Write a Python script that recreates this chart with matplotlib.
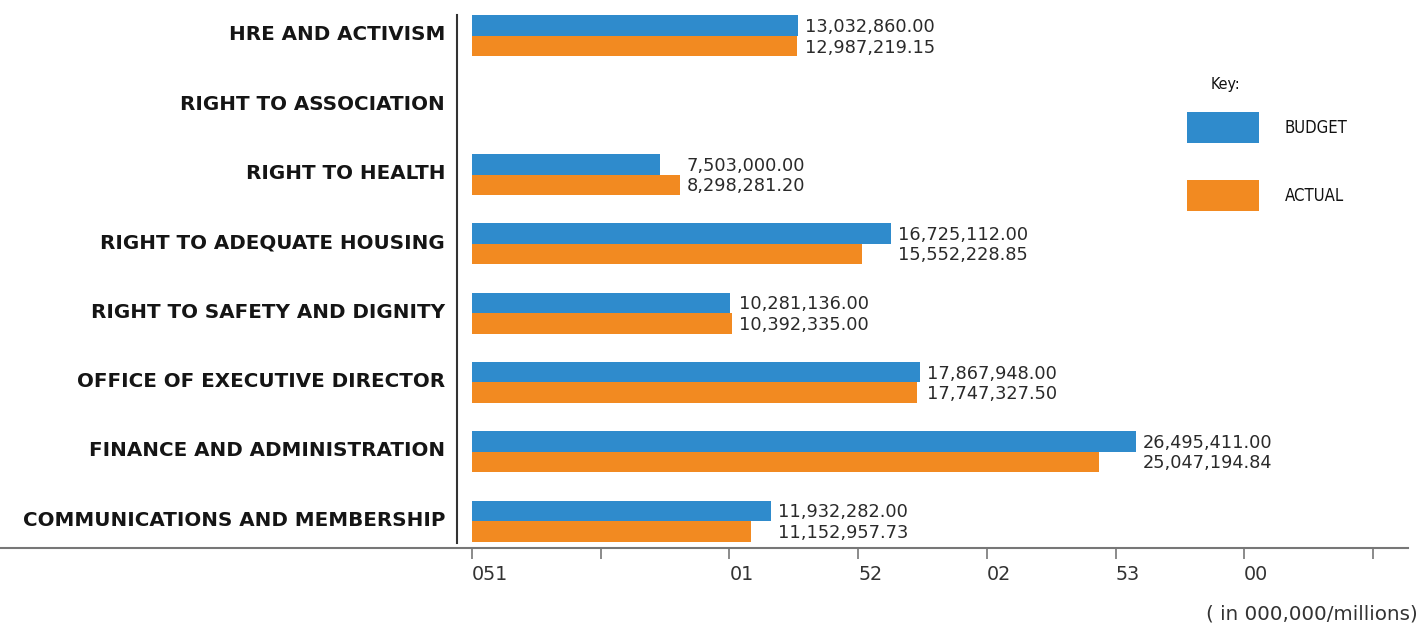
import numpy as np
import matplotlib
matplotlib.use("Agg")
import matplotlib.pyplot as plt
from matplotlib import font_manager
from matplotlib.font_manager import FontProperties
from matplotlib.lines import Line2D
from matplotlib.patches import Rectangle
from matplotlib.transforms import ScaledTranslation

# ---------------- data ----------------
categories = [
    "HRE AND ACTIVISM",
    "RIGHT TO ASSOCIATION",
    "RIGHT TO HEALTH",
    "RIGHT TO ADEQUATE HOUSING",
    "RIGHT TO SAFETY AND DIGNITY",
    "OFFICE OF EXECUTIVE DIRECTOR",
    "FINANCE AND ADMINISTRATION",
    "COMMUNICATIONS AND MEMBERSHIP",
]
budget = [13032860.00, np.nan, 7503000.00, 16725112.00, 10281136.00,
          17867948.00, 26495411.00, 11932282.00]
actual = [12987219.15, np.nan, 8298281.20, 15552228.85, 10392335.00,
          17747327.50, 25047194.84, 11152957.73]
series_names = ["BUDGET", "ACTUAL"]
tick_labels = ["051", "", "01", "52", "02", "53", "00", ""]
unit_label = "( in 000,000/millions)"
key_title = "Key:"

# ---------------- style ----------------
BLUE = "#2F8BCC"
ORANGE = "#F28A21"
W, H, DPI = 1420, 624, 100

# look for a condensed / narrow face for the key
narrow_file = None
for f in font_manager.fontManager.ttflist:
    nm = f.name
    cond = ("Narrow" in nm or "Condensed" in nm or
            str(f.stretch) in ("condensed", "semi-condensed"))
    if cond and str(f.weight) in ("400", "normal", "regular") and f.style == "normal":
        narrow_file = f.fname
        break
if narrow_file:
    KEY_FP = FontProperties(fname=narrow_file, size=12)
    KEY_TITLE_FP = FontProperties(fname=narrow_file, size=11.5)
else:
    KEY_FP = FontProperties(family="Liberation Sans", size=10.5)
    KEY_TITLE_FP = FontProperties(family="Liberation Sans", size=10)

def fx(px):
    return px / W

def fy(py):
    return 1 - py / H

fig = plt.figure(figsize=(W / DPI, H / DPI), dpi=DPI)
fig.patch.set_facecolor("white")

ax_left, ax_right, ax_top, ax_bottom = 457, 1408, 15, 548
ax = fig.add_axes([fx(ax_left), fy(ax_bottom),
                   fx(ax_right) - fx(ax_left), fy(ax_top) - fy(ax_bottom)])

px_per_unit = 25.05e-6          # pixels per currency unit
zero_px = 472
ax.set_xlim(-(zero_px - ax_left) / px_per_unit, (ax_right - zero_px) / px_per_unit)

row_px = 69.29
ax.set_ylim(7 + (ax_bottom - 521) / row_px, -(36 - ax_top) / row_px)

y = np.arange(len(categories))
bh = 20.5 / row_px
b = np.array(budget, dtype=float)
a = np.array(actual, dtype=float)
ax.barh(y - bh / 2, b, height=bh, color=BLUE, label=series_names[0])
ax.barh(y + bh / 2, a, height=bh, color=ORANGE, label=series_names[1])

# value labels
for i in range(len(categories)):
    if np.isnan(b[i]) or np.isnan(a[i]):
        continue
    xm = max(b[i], a[i])
    for val, yy in ((b[i], y[i] - bh / 2), (a[i], y[i] + bh / 2)):
        ax.annotate(f"{val:,.2f}", xy=(xm, yy), xytext=(5, -1),
                    textcoords="offset points", ha="left", va="center",
                    fontsize=12.8, color="#2a2a2a", family="DejaVu Sans")

# y axis
ax.set_yticks(y)
ax.set_yticklabels(categories, fontsize=14.3, fontweight="bold",
                   color="#151515", family="DejaVu Sans")
ax.tick_params(axis="y", length=0, pad=8.6)
shift_up = ScaledTranslation(0, 3 / DPI, fig.dpi_scale_trans)
for lab in ax.get_yticklabels():
    lab.set_transform(lab.get_transform() + shift_up)

# x axis
tick_step = 128.7 / px_per_unit
ticks = np.arange(len(tick_labels)) * tick_step
ax.set_xticks(ticks)
ax.set_xticklabels(tick_labels, ha="left", fontsize=13.8, color="#333333",
                   family="DejaVu Sans")
ax.tick_params(axis="x", direction="out", length=8, width=1.2,
               color="#777777", pad=4)

for s in ("top", "right", "bottom"):
    ax.spines[s].set_visible(False)
ax.spines["left"].set_color("#333333")
ax.spines["left"].set_linewidth(1.5)
ax.spines["left"].set_bounds(ax.get_ylim()[1], 7 + (543 - 521) / row_px)
ax.set_facecolor("none")

# horizontal base line across the figure
fig.add_artist(Line2D([0, fx(ax_right)], [fy(548), fy(548)],
                      transform=fig.transFigure, color="#777777", lw=1.5))

# unit label
fig.text(fx(1418), fy(614), unit_label, ha="right", va="center",
         fontsize=14.3, color="#333333", family="DejaVu Sans")

# key
fig.text(fx(1225), fy(84), key_title, ha="center", va="center",
         fontproperties=KEY_TITLE_FP, color="#111111")
for (top, name, col) in ((112, series_names[0], BLUE), (180, series_names[1], ORANGE)):
    fig.add_artist(Rectangle((fx(1187), fy(top + 31)), fx(72), 31 / H,
                             transform=fig.transFigure, color=col, lw=0))
    fig.text(fx(1285), fy(top + 16), name, ha="left", va="center",
             fontproperties=KEY_FP, color="#111111")

fig.savefig("out.png", dpi=DPI, facecolor="white")
